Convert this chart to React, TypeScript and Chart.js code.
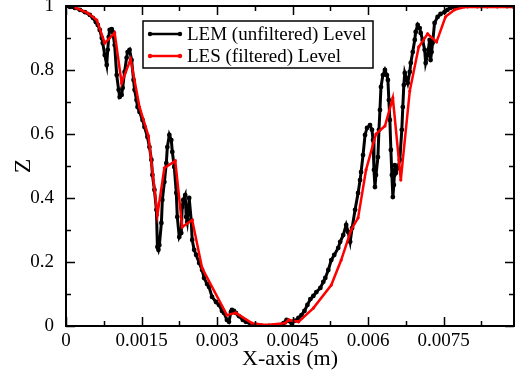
import React, { useEffect, useRef } from "react";
import { Chart, registerables } from "chart.js";

Chart.register(...registerables);

// ---------- data ----------
const SERIES_LABELS = ["LEM (unfiltered) Level", "LES (filtered) Level"];

const LEM_X = [
  0, 0.000079, 0.000178, 0.000276, 0.000375, 0.000474, 0.000533, 0.000592, 0.000632, 0.000671,
  0.000711, 0.00073, 0.00077, 0.000809, 0.000829, 0.000849, 0.000868, 0.000908, 0.000928, 0.000967,
  0.001007, 0.001046, 0.001066, 0.001105, 0.001125, 0.001164, 0.001204, 0.001224, 0.001263, 0.001303,
  0.001342, 0.001362, 0.001401, 0.001421, 0.001461, 0.00152, 0.001559, 0.001618, 0.001658, 0.001697,
  0.001717, 0.001757, 0.001796, 0.001816, 0.001836, 0.001855, 0.001895, 0.001914, 0.001954, 0.001993,
  0.002013, 0.002053, 0.002092, 0.002112, 0.002151, 0.002191, 0.002211, 0.00225, 0.002289, 0.002309,
  0.002329, 0.002368, 0.002388, 0.002408, 0.002447, 0.002487, 0.002507, 0.002546, 0.002586, 0.002645,
  0.002704, 0.002743, 0.002803, 0.002842, 0.002901, 0.00298, 0.003039, 0.003099, 0.003138, 0.003197,
  0.003237, 0.003276, 0.003296, 0.003336, 0.003375, 0.003434, 0.003513, 0.003572, 0.003671, 0.003789,
  0.003888, 0.004026, 0.004125, 0.004224, 0.004322, 0.004382, 0.004421, 0.00448, 0.004539, 0.004618,
  0.004678, 0.004737, 0.004796, 0.004855, 0.004914, 0.004974, 0.005053, 0.005112, 0.005151, 0.005211,
  0.00527, 0.005329, 0.005408, 0.005447, 0.005507, 0.005566, 0.005605, 0.005645, 0.005684, 0.005743,
  0.005803, 0.005842, 0.005862, 0.005901, 0.005941, 0.00598, 0.006039, 0.006079, 0.006099, 0.006118,
  0.006138, 0.006158, 0.006197, 0.006217, 0.006237, 0.006257, 0.006296, 0.006336, 0.006375, 0.006395,
  0.006414, 0.006434, 0.006454, 0.006474, 0.006493, 0.006513, 0.006533, 0.006553, 0.006592, 0.006632,
  0.006671, 0.006691, 0.006711, 0.00673, 0.00677, 0.006789, 0.006829, 0.006849, 0.006888, 0.006928,
  0.006947, 0.006987, 0.007026, 0.007046, 0.007085, 0.007125, 0.007145, 0.007184, 0.007224, 0.007243,
  0.007263, 0.007283, 0.007322, 0.007382, 0.007441, 0.00752, 0.007579, 0.007638, 0.007717, 0.007776,
  0.007875, 0.007974, 0.008171, 0.008368, 0.008566, 0.008763, 0.008882,
];

const LEM_Z = [
  1.0, 0.997, 0.994, 0.988, 0.981, 0.972, 0.963, 0.95, 0.941, 0.925,
  0.9, 0.884, 0.847, 0.816, 0.863, 0.903, 0.925, 0.928, 0.919, 0.878,
  0.784, 0.738, 0.716, 0.722, 0.744, 0.794, 0.838, 0.856, 0.863, 0.831,
  0.769, 0.738, 0.706, 0.684, 0.669, 0.644, 0.622, 0.591, 0.559, 0.519,
  0.472, 0.425, 0.363, 0.247, 0.238, 0.253, 0.322, 0.394, 0.45, 0.509,
  0.559, 0.597, 0.581, 0.544, 0.497, 0.416, 0.341, 0.278, 0.291, 0.372,
  0.394, 0.409, 0.341, 0.325, 0.4, 0.331, 0.269, 0.238, 0.222, 0.197,
  0.175, 0.15, 0.131, 0.122, 0.091, 0.075, 0.066, 0.047, 0.041, 0.019,
  0.013, 0.044, 0.05, 0.047, 0.041, 0.031, 0.019, 0.013, 0.006, 0.003,
  0.0, 0.0, 0.0, 0.003, 0.009, 0.019, 0.016, 0.009, 0.016, 0.025,
  0.034, 0.047, 0.066, 0.084, 0.094, 0.106, 0.119, 0.138, 0.15, 0.175,
  0.206, 0.222, 0.244, 0.263, 0.284, 0.316, 0.294, 0.263, 0.306, 0.363,
  0.416, 0.456, 0.481, 0.534, 0.597, 0.619, 0.628, 0.613, 0.581, 0.488,
  0.434, 0.472, 0.528, 0.613, 0.675, 0.747, 0.784, 0.8, 0.784, 0.769,
  0.706, 0.644, 0.55, 0.472, 0.403, 0.441, 0.503, 0.478, 0.494, 0.519,
  0.613, 0.684, 0.753, 0.791, 0.769, 0.759, 0.794, 0.822, 0.856, 0.894,
  0.919, 0.941, 0.931, 0.916, 0.894, 0.863, 0.822, 0.847, 0.894, 0.831,
  0.856, 0.884, 0.947, 0.966, 0.975, 0.981, 0.988, 0.994, 0.997, 0.997,
  1.0, 1.0, 1.0, 1.0, 1.0, 1.0, 1.0,
];

const LES_X = [
  0.000197, 0.000434, 0.000612, 0.00077, 0.000967, 0.001105, 0.001283, 0.001461, 0.001638, 0.001816,
  0.001954, 0.002171, 0.002309, 0.002507, 0.002704, 0.003197, 0.003375, 0.003691, 0.003967, 0.004362,
  0.004421, 0.004618, 0.004914, 0.00527, 0.005467, 0.005664, 0.005803, 0.005961, 0.006158, 0.006336,
  0.006493, 0.006651, 0.006829, 0.007007, 0.007184, 0.007362, 0.007539, 0.007717, 0.007914, 0.008882,
];

const LES_Z = [
  0.994, 0.978, 0.956, 0.884, 0.916, 0.759, 0.834, 0.684, 0.594, 0.347,
  0.494, 0.516, 0.309, 0.331, 0.181, 0.034, 0.041, 0.009, 0.003, 0.009,
  0.019, 0.013, 0.056, 0.128, 0.206, 0.3, 0.338, 0.488, 0.6, 0.625,
  0.713, 0.456, 0.734, 0.872, 0.913, 0.888, 0.966, 0.988, 0.997, 0.997,
];

const X_TICKS = [0, 0.0015, 0.003, 0.0045, 0.006, 0.0075];
const X_MINOR = [0.00075, 0.00225, 0.00375, 0.00525, 0.00675, 0.00825];
const Y_TICKS = [0, 0.2, 0.4, 0.6, 0.8, 1];
const Y_MINOR = [0.1, 0.3, 0.5, 0.7, 0.9];
const X_MIN = 0;
const X_MAX = 0.0089;
const Y_MIN = 0;
const Y_MAX = 1;

const FONT = '"Liberation Serif", "Times New Roman", serif';

const fmt = (v: number) => String(Number(Number(v).toFixed(5)));

const framePlugin = {
  id: "xmgraceFrame",
  afterDraw(chart: any) {
    const { ctx, chartArea } = chart;
    const { left, right, top, bottom } = chartArea;
    const xs = chart.scales.x;
    const ys = chart.scales.y;
    ctx.save();
    ctx.strokeStyle = "#000";
    ctx.lineWidth = 2;
    ctx.strokeRect(left, top, right - left, bottom - top);
    ctx.lineWidth = 1.5;
    ctx.beginPath();
    const xt = (vals: number[], len: number) => {
      vals.forEach((v) => {
        const p = Math.round(xs.getPixelForValue(v)) + 0.5;
        ctx.moveTo(p, bottom);
        ctx.lineTo(p, bottom - len);
        ctx.moveTo(p, top);
        ctx.lineTo(p, top + len);
      });
    };
    const yt = (vals: number[], len: number) => {
      vals.forEach((v) => {
        const p = Math.round(ys.getPixelForValue(v)) + 0.5;
        ctx.moveTo(left, p);
        ctx.lineTo(left + len, p);
        ctx.moveTo(right, p);
        ctx.lineTo(right - len, p);
      });
    };
    xt(X_TICKS, 9);
    xt(X_MINOR, 5);
    yt(Y_TICKS, 9);
    yt(Y_MINOR, 5);
    ctx.stroke();
    ctx.restore();
  },
};

const legendPlugin = {
  id: "boxLegend",
  afterDraw(chart: any) {
    const { ctx, chartArea } = chart;
    const bx = chartArea.left + 77;
    const by = chartArea.top + 15;
    const bw = 230;
    const bh = 47;
    ctx.save();
    ctx.fillStyle = "#fff";
    ctx.fillRect(bx, by, bw, bh);
    ctx.strokeStyle = "#000";
    ctx.lineWidth = 1.5;
    ctx.strokeRect(bx, by, bw, bh);
    const rows = [
      { ds: chart.data.datasets[0], y: by + 13 },
      { ds: chart.data.datasets[1], y: by + 35 },
    ];
    rows.forEach(({ ds, y }) => {
      ctx.strokeStyle = ds.borderColor;
      ctx.lineWidth = 2.5;
      ctx.beginPath();
      ctx.moveTo(bx + 7, y);
      ctx.lineTo(bx + 37, y);
      ctx.stroke();
      ctx.fillStyle = ds.borderColor;
      [bx + 7, bx + 37].forEach((px) => {
        ctx.beginPath();
        ctx.arc(px, y, 2.2, 0, Math.PI * 2);
        ctx.fill();
      });
      ctx.fillStyle = "#000";
      ctx.font = `19px ${FONT}`;
      ctx.textBaseline = "middle";
      ctx.textAlign = "left";
      ctx.fillText(ds.label, bx + 44, y + 1);
    });
    ctx.restore();
  },
};

export default function App() {
  const ref = useRef<HTMLCanvasElement>(null);

  useEffect(() => {
    if (!ref.current) return;
    const chart = new Chart(ref.current, {
      type: "line",
      data: {
        datasets: [
          {
            label: SERIES_LABELS[0],
            data: LEM_X.map((x, i) => ({ x, y: LEM_Z[i] })),
            borderColor: "#000000",
            backgroundColor: "#000000",
            pointBackgroundColor: "#000000",
            borderWidth: 3,
            pointRadius: 2.4,
            pointBorderWidth: 0,
            tension: 0,
            order: 2,
          },
          {
            label: SERIES_LABELS[1],
            data: LES_X.map((x, i) => ({ x, y: LES_Z[i] })),
            borderColor: "#ff0000",
            backgroundColor: "#ff0000",
            pointBackgroundColor: "#ff0000",
            borderWidth: 2.5,
            pointRadius: 1.6,
            pointBorderWidth: 0,
            tension: 0,
            order: 1,
          },
        ],
      },
      options: {
        responsive: false,
        animation: false,
        devicePixelRatio: 1,
        layout: { padding: { top: 6, right: 0, bottom: 0, left: 0 } },
        plugins: {
          legend: { display: false },
          tooltip: { enabled: false },
        },
        scales: {
          x: {
            type: "linear",
            position: "bottom",
            min: X_MIN,
            max: X_MAX,
            grid: { display: false },
            border: { display: false },
            afterBuildTicks: (s: any) => {
              s.ticks = X_TICKS.map((value) => ({ value }));
            },
            afterFit: (s: any) => {
              s.height = 50;
              s.paddingLeft = 0;
              s.paddingRight = 0;
            },
            ticks: {
              color: "#000",
              padding: -4,
              maxRotation: 0,
              autoSkip: false,
              font: { family: FONT, size: 19 },
              callback: (v: any) => fmt(v),
            },
            title: {
              display: true,
              text: "X-axis (m)",
              color: "#000",
              font: { family: FONT, size: 22 },
              padding: { top: 0, bottom: 4 },
            },
          },
          y: {
            type: "linear",
            min: Y_MIN,
            max: Y_MAX,
            grid: { display: false },
            border: { display: false },
            afterBuildTicks: (s: any) => {
              s.ticks = Y_TICKS.map((value) => ({ value }));
            },
            afterFit: (s: any) => {
              s.width = 66;
              s.paddingTop = 0;
              s.paddingBottom = 0;
            },
            ticks: {
              color: "#000",
              padding: 4,
              autoSkip: false,
              font: { family: FONT, size: 19 },
              callback: (v: any) => fmt(v),
            },
            title: {
              display: true,
              text: "Z",
              color: "#000",
              font: { family: FONT, size: 24 },
              padding: { top: 9, bottom: 0 },
            },
          },
        },
      },
      plugins: [framePlugin, legendPlugin],
    } as any);
    return () => chart.destroy();
  }, []);

  return (
    <div
      style={{
        position: "absolute",
        left: 0,
        top: 0,
        width: 516,
        height: 376,
        overflow: "hidden",
        background: "#fff",
      }}
    >
      <canvas ref={ref} width={518} height={376} style={{ display: "block" }} />
    </div>
  );
}
